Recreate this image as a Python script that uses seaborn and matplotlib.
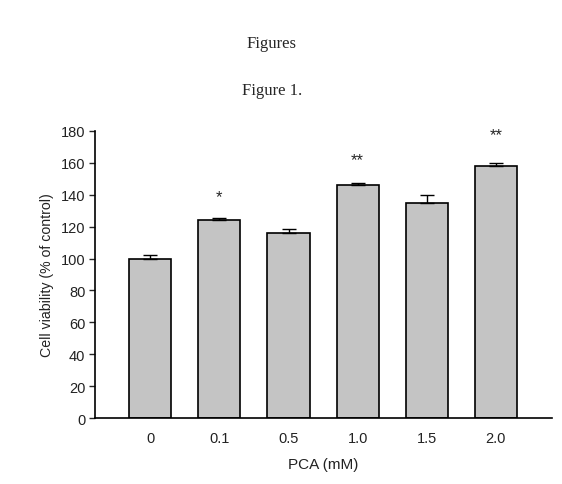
import numpy as np
import pandas as pd
import matplotlib
matplotlib.use("Agg")
import matplotlib.pyplot as plt
import seaborn as sns

doses = ["0", "0.1", "0.5", "1.0", "1.5", "2.0"]
viability = [100, 124.3, 116.2, 146.1, 135, 158]
sem = [2, 1, 2.3, 1.4, 4.8, 1.7]
marks = ["", "*", "", "**", "", "**"]
mark_y = [0, 134, 0, 157, 0, 173]

df = pd.DataFrame({"PCA (mM)": doses, "viability": viability})

sns.set_style("ticks")
plt.rcParams['font.family'] = ['Liberation Sans', 'DejaVu Sans']

fig = plt.figure(figsize=(5.62, 4.85), dpi=100)
ax = fig.add_axes([0.169, 0.136, 0.813, 0.592])

sns.barplot(data=df, x="PCA (mM)", y="viability", color="#c4c4c4",
            edgecolor="black", linewidth=1.2, width=0.61, saturation=1, ax=ax)
pos = np.arange(len(doses))
ax.errorbar(pos, viability, yerr=[np.zeros(len(sem)), sem], fmt="none",
            ecolor="black", elinewidth=1, capsize=5, capthick=1)
for i, m in enumerate(marks):
    if m:
        ax.text(i, mark_y[i], m, ha="center", va="bottom", fontsize=12)

ax.set_ylim(0, 180)
ax.set_xlim(-0.8, 5.81)
ax.set_yticks(range(0, 181, 20))
ax.tick_params(axis="y", length=4, width=1, labelsize=10.5, pad=3,
               labelcolor="#222222")
ax.tick_params(axis="x", length=0, labelsize=10.5, pad=9,
               labelcolor="#222222")
sns.despine(ax=ax)
for s in ["left", "bottom"]:
    ax.spines[s].set_linewidth(1.2)
    ax.spines[s].set_color("black")
ax.set_xlabel("PCA (mM)", fontsize=11, labelpad=9, color="#222222")
ax.set_ylabel("Cell viability (% of control)", fontsize=10.2, labelpad=5,
              color="#222222")

fig.text(0.484, 1 - 44 / 485, "Figures", ha="center", va="center",
         fontsize=12, family=["Liberation Serif", "DejaVu Serif"])
fig.text(0.484, 1 - 91 / 485, "Figure 1.", ha="center", va="center",
         fontsize=12, family=["Liberation Serif", "DejaVu Serif"])

fig.savefig("out.png", dpi=100)
